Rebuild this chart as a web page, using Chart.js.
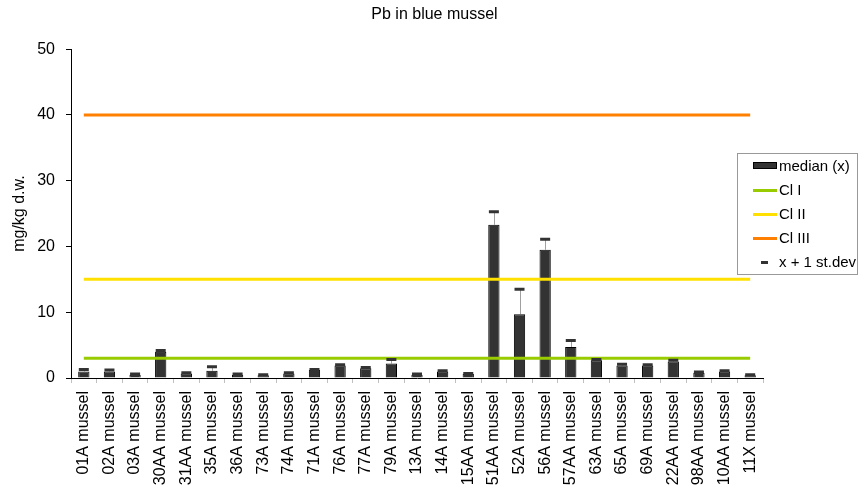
<!DOCTYPE html>
<html>
<head>
<meta charset="utf-8">
<title>Pb in blue mussel</title>
<script src="https://cdn.jsdelivr.net/npm/chart.js@4/dist/chart.umd.min.js"></script>
<style>
  html, body { margin: 0; padding: 0; background: #fff; }
  #wrap { width: 859px; height: 487px; }
</style>
</head>
<body>
<div id="wrap"><canvas id="pb-chart" width="859" height="487"></canvas></div>
<script>
// ====== Data ======
const stations = [
  '01A mussel', '02A mussel', '03A mussel', '30AA mussel', '31AA mussel', '35A mussel',
  '36A mussel', '73A mussel', '74A mussel', '71A mussel', '76A mussel', '77A mussel',
  '79A mussel', '13A mussel', '14A mussel', '15AA mussel', '51AA mussel', '52A mussel',
  '56A mussel', '57AA mussel', '63A mussel', '65A mussel', '69A mussel', '22AA mussel',
  '98AA mussel', '10AA mussel', '11X mussel'
];
const medianValues = [
  1.0, 1.0, 0.5, 4.0, 0.7, 1.1,
  0.5, 0.4, 0.7, 1.2, 1.9, 1.5,
  2.2, 0.5, 1.0, 0.6, 23.3, 9.7,
  19.5, 4.7, 2.7, 1.9, 1.9, 2.5,
  0.8, 1.0, 0.4
];
// x + 1 st.dev
const stdevUpper = [
  1.3, 1.2, 0.6, 4.2, 0.8, 1.7,
  0.6, 0.5, 0.8, 1.3, 2.0, 1.6,
  2.8, 0.6, 1.1, 0.7, 25.3, 13.5,
  21.1, 5.7, 2.8, 2.1, 2.0, 2.7,
  0.9, 1.1, 0.5
];
const classNames = ['Cl I', 'Cl II', 'Cl III'];
const classLimits = [3, 15, 40];
const classColors = ['#99cc00', '#ffe000', '#ff8000'];
const yTicks = [0, 10, 20, 30, 40, 50];

const FONT = 'Liberation Sans, Arial, Helvetica, sans-serif';

// ====== Plugins ======
// thin line from the bar top up to the st.dev cap
const stdevLinks = {
  id: 'stdevLinks',
  beforeDatasetsDraw(chart) {
    const ctx = chart.ctx;
    const bars = chart.getDatasetMeta(0).data;
    const caps = chart.getDatasetMeta(4).data;
    ctx.save();
    ctx.strokeStyle = '#a0a0a0';
    ctx.lineWidth = 1;
    bars.forEach((bar, i) => {
      const cap = caps[i];
      if (!cap) return;
      const x = Math.round(bar.x) + 0.5;
      ctx.beginPath();
      ctx.moveTo(x, bar.y);
      ctx.lineTo(x, cap.y);
      ctx.stroke();
    });
    ctx.restore();
  }
};

// boxed legend sitting over the right end of the plot, like the Excel one
const boxLegend = {
  id: 'boxLegend',
  afterDraw(chart) {
    const ctx = chart.ctx;
    const left = chart.width - 122;
    const top = 153;
    const w = 121;
    const h = 122;
    ctx.save();
    ctx.fillStyle = '#fff';
    ctx.fillRect(left, top, w, h);
    ctx.strokeStyle = '#999';
    ctx.lineWidth = 1;
    ctx.strokeRect(left + 0.5, top + 0.5, w - 1, h - 1);

    ctx.font = '15px ' + FONT;
    ctx.textBaseline = 'middle';
    ctx.textAlign = 'left';
    chart.data.datasets.forEach((ds, i) => {
      const y = top + 13 + i * 24;
      const mx = left + 16;
      if (ds.type === 'bar') {
        ctx.fillStyle = ds.backgroundColor;
        ctx.fillRect(mx, y - 4, 24, 7);
        ctx.strokeStyle = ds.borderColor;
        ctx.strokeRect(mx + 0.5, y - 3.5, 23, 6);
      } else if (ds.showLine === false) {
        ctx.fillStyle = ds.borderColor;
        ctx.fillRect(mx + 8, y - 1, 7, 3);
      } else {
        ctx.fillStyle = ds.borderColor;
        ctx.fillRect(mx, y - 1, 24, 3);
      }
      ctx.fillStyle = '#000';
      ctx.fillText(ds.label, mx + 26, y + 1);
    });
    ctx.restore();
  }
};

// ====== Chart ======
const first = stations[0];
const last = stations[stations.length - 1];

const datasets = [
  {
    type: 'bar',
    label: 'median (x)',
    data: medianValues,
    backgroundColor: '#333333',
    borderColor: '#000000',
    borderWidth: 1,
    barPercentage: 0.44,
    categoryPercentage: 1,
    order: 3
  }
];
classNames.forEach((name, i) => {
  datasets.push({
    type: 'line',
    label: name,
    data: [{ x: first, y: classLimits[i] }, { x: last, y: classLimits[i] }],
    borderColor: classColors[i],
    backgroundColor: classColors[i],
    borderWidth: 3,
    pointRadius: 0,
    fill: false,
    order: 2
  });
});
datasets.push({
  type: 'line',
  label: 'x + 1 st.dev',
  data: stdevUpper,
  showLine: false,
  pointStyle: 'line',
  pointRadius: 5,
  borderColor: '#333333',
  pointBorderColor: '#333333',
  pointBorderWidth: 3,
  order: 1
});

const chart = new Chart(document.getElementById('pb-chart').getContext('2d'), {
  data: { labels: stations, datasets: datasets },
  plugins: [stdevLinks, boxLegend],
  options: {
    responsive: false,
    animation: false,
    devicePixelRatio: 1,
    layout: { padding: { left: 10, right: 0, top: 0, bottom: 2 } },
    plugins: {
      legend: { display: false },
      tooltip: { enabled: false },
      title: {
        display: true,
        text: 'Pb in blue mussel',
        color: '#000',
        font: { family: FONT, size: 16, weight: 'normal' },
        padding: { top: 5, bottom: 25 }
      }
    },
    scales: {
      x: {
        type: 'category',
        offset: true,
        afterFit: scale => { scale.height = 107; },
        grid: {
          display: true,
          drawOnChartArea: false,
          drawTicks: true,
          tickLength: 5,
          color: '#c0c0c0',
          offset: true
        },
        border: { display: true, color: '#000', width: 1 },
        ticks: {
          autoSkip: false,
          minRotation: 90,
          maxRotation: 90,
          padding: 8,
          color: '#000',
          font: { family: FONT, size: 16 }
        }
      },
      y: {
        type: 'linear',
        position: 'left',
        min: 0,
        max: 50,
        afterBuildTicks: scale => { scale.ticks = yTicks.map(v => ({ value: v })); },
        afterFit: scale => { scale.width = 61; },
        grid: {
          display: true,
          drawOnChartArea: false,
          drawTicks: true,
          tickLength: 5,
          color: '#000'
        },
        border: { display: true, color: '#000', width: 1 },
        ticks: {
          padding: 11,
          color: '#000',
          font: { family: FONT, size: 16 }
        },
        title: {
          display: true,
          text: 'mg/kg d.w.',
          color: '#000',
          font: { family: FONT, size: 16 },
          padding: { top: 0, bottom: 0 }
        }
      },
      // empty axis that keeps room on the right like the reference layout
      yRight: {
        type: 'linear',
        position: 'right',
        display: true,
        min: 0,
        max: 50,
        grid: { display: false },
        border: { display: false },
        ticks: { display: false },
        afterFit: scale => { scale.width = 96; }
      }
    }
  }
});
</script>
</body>
</html>
